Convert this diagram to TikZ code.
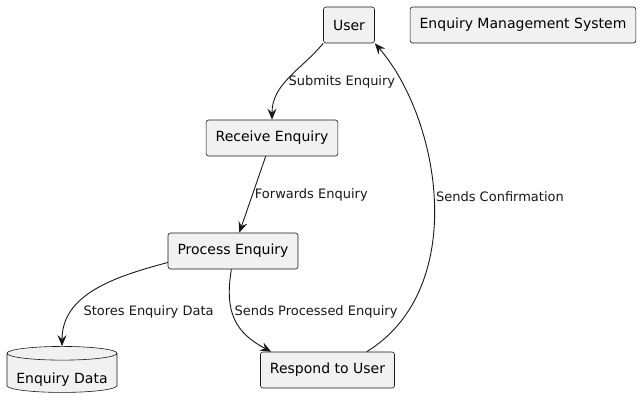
\documentclass[tikz,border=0pt]{standalone}
\usepackage{fontspec}
\setmainfont{DejaVu Sans}
\usetikzlibrary{positioning, arrows.meta, shapes.geometric}

\definecolor{boxfill}{HTML}{F1F1F1}
\definecolor{ink}{HTML}{181818}

\tikzset{
  procbox/.style={draw=ink, fill=boxfill, rounded corners=2.5pt, line width=0.6pt,
    minimum height=36pt, inner xsep=9.5pt, font=\fontsize{14}{16}\selectfont},
  storebox/.style={draw=ink, fill=boxfill, line width=0.6pt, shape=cylinder,
    shape border rotate=90, aspect=0.15, minimum width=110pt, minimum height=46pt,
    inner sep=0pt, font=\fontsize{14}{16}\selectfont},
  flow/.style={draw=ink, line width=0.9pt, -{Stealth[length=11pt,width=9pt,inset=4pt]}},
  flowlabel/.style={right, font=\fontsize{13}{15}\selectfont, text=ink, inner sep=2pt}
}

\begin{document}
\begin{tikzpicture}[x=1pt, y=1pt]
\useasboundingbox (0,0) rectangle (642,408);

% processes
\node[procbox] (user) at (349,383) {User};
\node[procbox] (ems) at (523,383) {Enquiry Management System};
\node[procbox] (recv) at (272,270) {Receive Enquiry};
\node[procbox] (proc) at (233,157) {Process Enquiry};
\node[procbox] (resp) at (327.5,38) {Respond to User};
% data store
\node[storebox] (edata) at (62,35) {\raisebox{-10pt}[0pt][0pt]{Enquiry Data}};

% flows
\draw[flow] (user.south west) to[out=230, in=90] node[flowlabel, pos=0.55] {Submits Enquiry} (recv.north);
\draw[flow] (recv) -- node[flowlabel] {Forwards Enquiry} (proc);
\draw[flow] (proc.190) to[out=195, in=90] node[flowlabel, pos=0.74, xshift=9pt] {Stores Enquiry Data} (edata.north);
\draw[flow] (proc.265) .. controls (224,95) and (236,75) .. node[flowlabel, pos=0.4] {Sends Processed Enquiry} (resp.162);
\draw[flow] (resp.25) .. controls (470,120) and (440,290) .. node[flowlabel, pos=0.515] {Sends Confirmation} (user.south east);
\end{tikzpicture}
\end{document}
